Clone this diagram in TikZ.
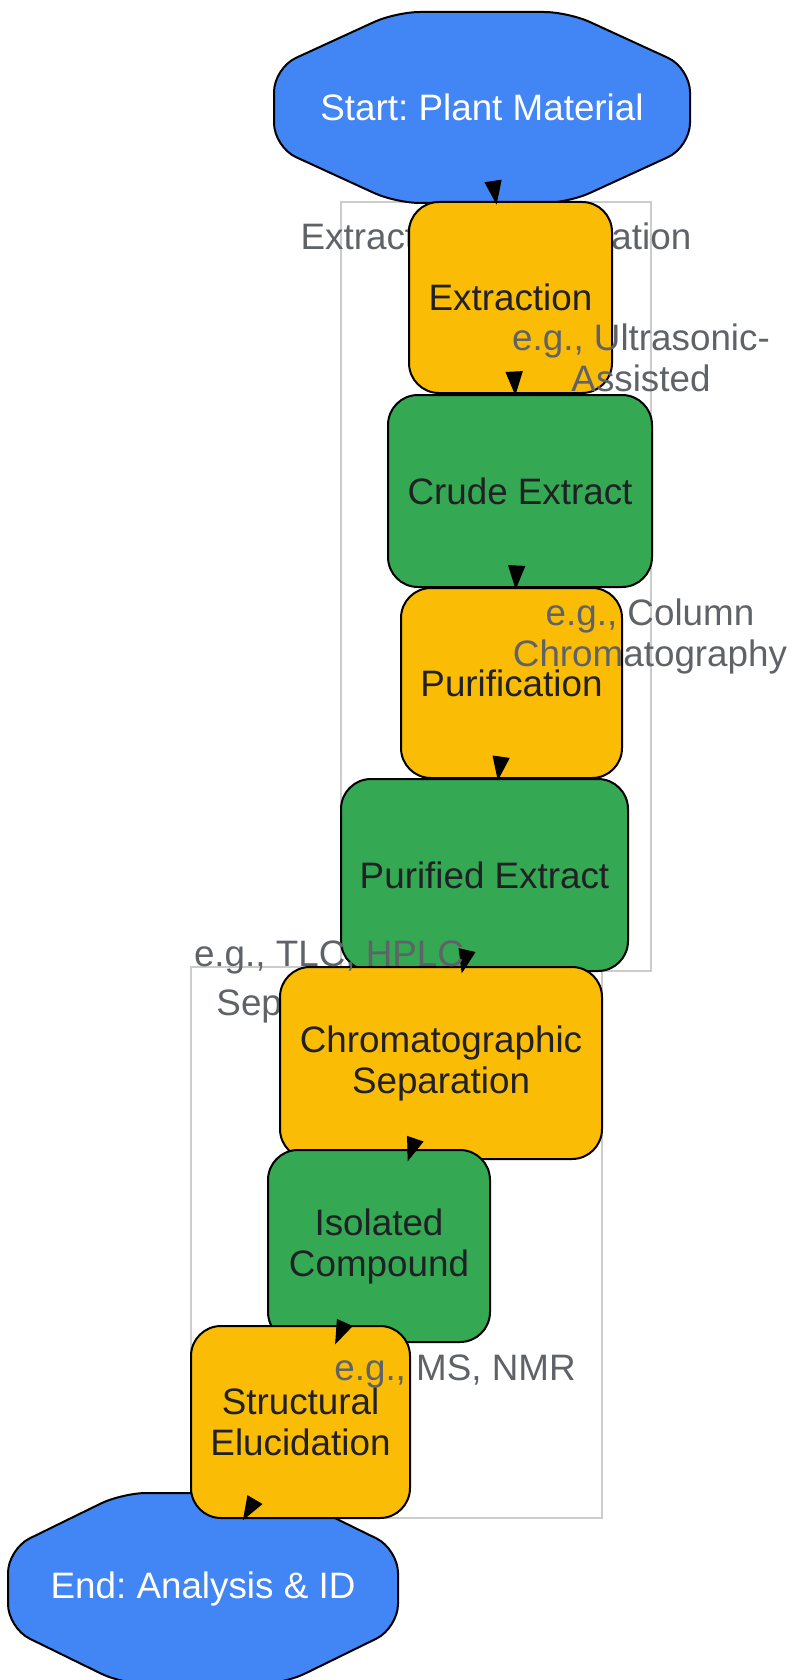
\documentclass[tikz,border=0pt]{standalone}
\usepackage{fontspec}
\setmainfont{Liberation Sans}
\usetikzlibrary{calc}
\definecolor{gblue}{HTML}{4285F4}
\definecolor{gyellow}{HTML}{FBBC05}
\definecolor{ggreen}{HTML}{34A853}
\definecolor{gtext}{HTML}{202124}
\definecolor{glabel}{HTML}{5F6368}
\definecolor{gcluster}{HTML}{CCCCCC}
\frenchspacing
\newcommand\drawocto[4]{%
  \filldraw[octo] (#1,{#2-#4}) -- ({#1+0.414*#3},{#2-#4}) -- ({#1+#3},{#2-0.414*#4}) -- ({#1+#3},{#2+0.414*#4}) -- ({#1+0.414*#3},{#2+#4}) -- ({#1-0.414*#3},{#2+#4}) -- ({#1-#3},{#2+0.414*#4}) -- ({#1-#3},{#2-0.414*#4}) -- ({#1-0.414*#3},{#2-#4}) -- cycle;}
\begin{document}
\begin{tikzpicture}[x=1pt,y=-1pt,
  txt/.style={font=\fontsize{36.8}{41}\selectfont\frenchspacing, inner sep=0pt, align=center},
  stepbox/.style={txt, draw=black, line width=2pt, rounded corners=30pt, text=gtext},
  procbox/.style={stepbox, fill=gyellow},
  databox/.style={stepbox, fill=ggreen},
  termnode/.style={txt, text=white},
  octo/.style={fill=gblue, draw=black, line width=2pt, rounded corners=24pt},
  clusterbox/.style={draw=gcluster, line width=1.5pt},
  elabel/.style={txt, text=glabel, anchor=base},
  arrowhead/.style={fill=black, draw=black, line width=1pt, line join=miter}]
\useasboundingbox (0,0) rectangle (793,1680);
\clip (0,0) rectangle (793,1680);
% clusters
\draw[clusterbox] (341,202) rectangle (651,971);
\node[elabel] (cl1) at (496,250) {Extraction \& Purification};
\draw[clusterbox] (191,967) rectangle (602,1518);
\node[elabel] (cl2) at (396.5,1015) {Separation \& Analysis};
% terminal shapes
\drawocto{482}{107.5}{208}{95.5}
\drawocto{203}{1588.5}{195}{95.5}
\node[termnode, minimum width=416pt, minimum height=191pt] (start) at (482,107.5) {Start: Plant Material};
\node[termnode, minimum width=390pt, minimum height=191pt] (end) at (203,1588.5) {End: Analysis \& ID};
% steps
\node[procbox, minimum width=203pt, minimum height=191pt] (ext) at (510.5,297.5) {Extraction};
\node[databox, minimum width=264pt, minimum height=192pt] (crude) at (520,491) {Crude Extract};
\node[procbox, minimum width=221pt, minimum height=190pt] (pur) at (511.5,683) {Purification};
\node[databox, minimum width=287pt, minimum height=192pt] (purx) at (484.5,875) {Purified Extract};
\node[procbox, minimum width=322pt, minimum height=192pt] (chrom) at (441,1063) {Chromatographic\\Separation};
\node[databox, minimum width=222pt, minimum height=192pt] (iso) at (379,1246) {Isolated\\Compound};
\node[procbox, minimum width=219pt, minimum height=192pt] (struc) at (300.5,1422) {Structural\\Elucidation};
% edges (only arrowheads visible)
\foreach \s/\t/\n in {start/ext/a, ext/crude/b, crude/pur/c, pur/purx/d, purx/chrom/e, chrom/iso/f, iso/struc/g, struc/end/h} {
  \path (\s) -- (\t) coordinate[pos=0] (tip\n);
  \coordinate (base\n) at ($(tip\n)!22pt!(\s.center)$);
  \filldraw[arrowhead] (tip\n) -- ($(base\n)!8pt!90:(tip\n)$) -- ($(base\n)!8pt!-90:(tip\n)$) -- cycle;
}
% edge labels (base = last line's baseline)
\node[elabel] (l1) at (641,391) {e.g., Ultrasonic-\\Assisted};
\node[elabel] (l2) at (650,666) {e.g., Column\\Chromatography};
\node[elabel] (l3) at (329,966) {e.g., TLC, HPLC};
\node[elabel] (l4) at (455,1380) {e.g., MS, NMR};
\end{tikzpicture}
\end{document}
